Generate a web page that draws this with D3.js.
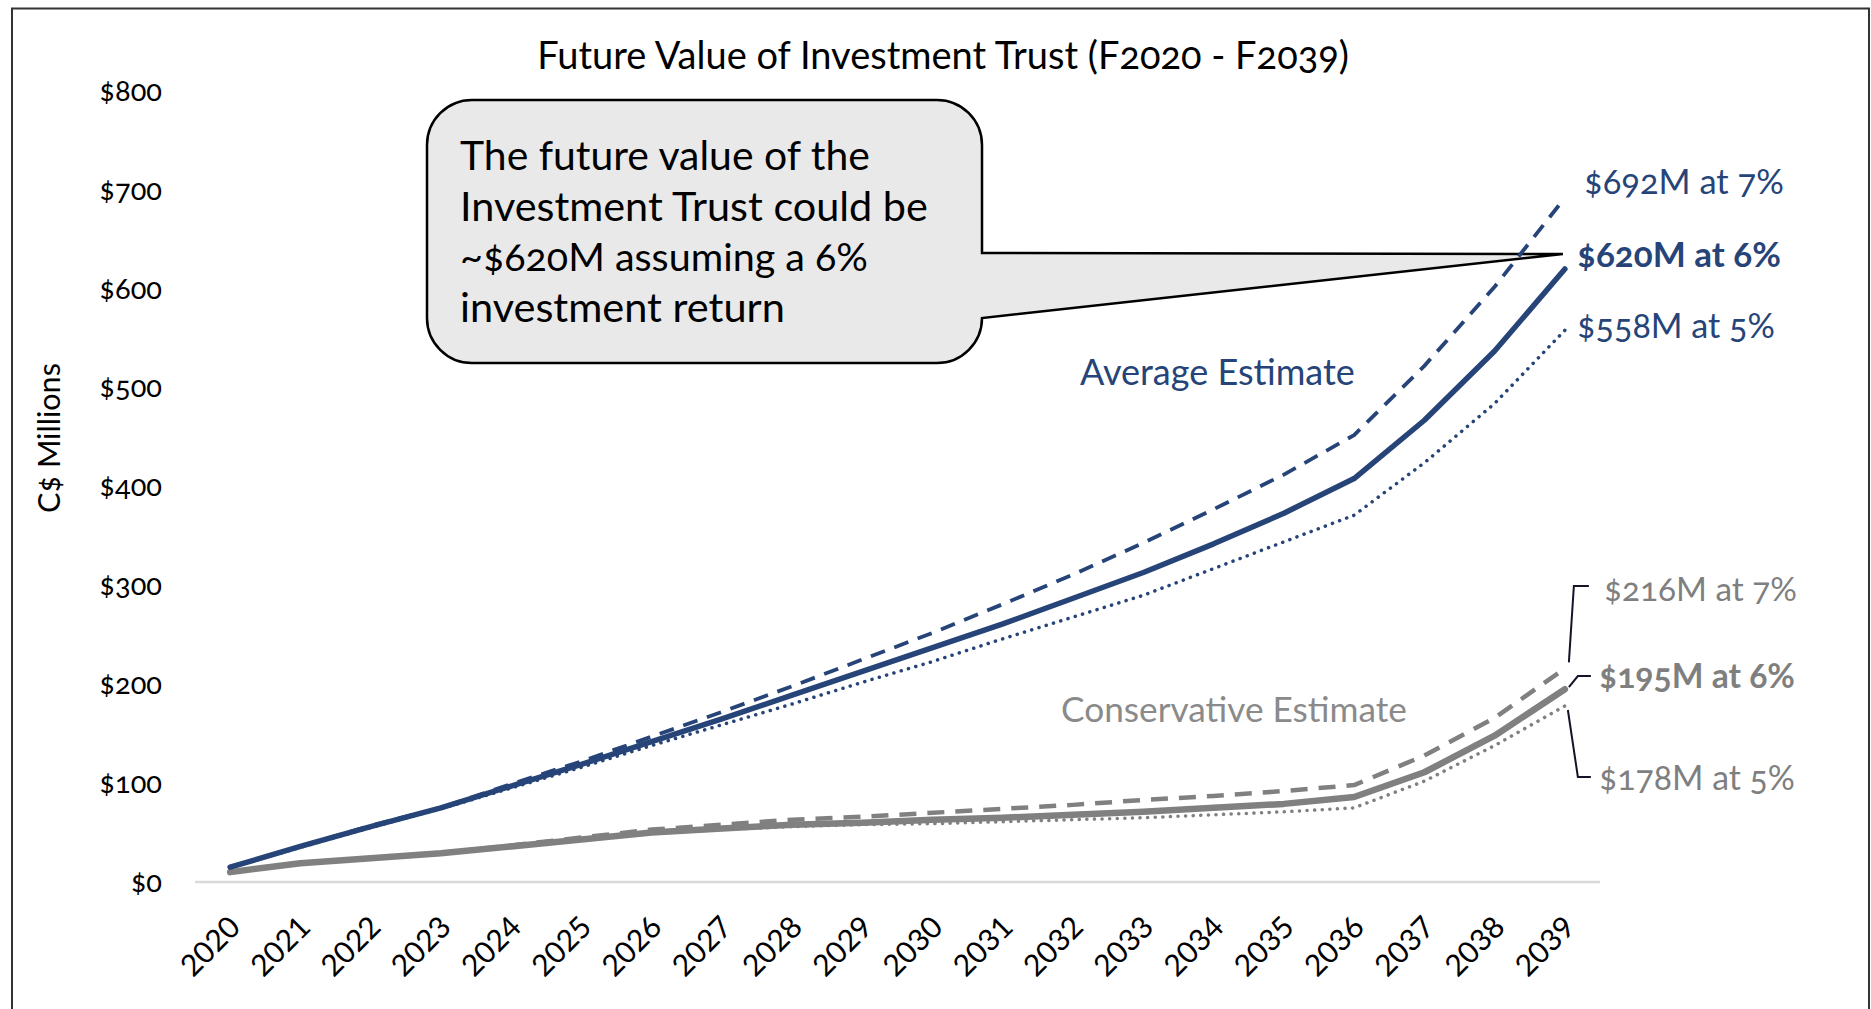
<!DOCTYPE html>
<html>
<head>
<meta charset="utf-8">
<script src="https://cdn.jsdelivr.net/npm/d3@7"></script>
<style>
  html, body { margin: 0; padding: 0; background: #fff; }
  svg { display: block; }
  text { font-family: Lato, "Open Sans", "Noto Sans", sans-serif; font-variant-numeric: oldstyle-nums; }
</style>
</head>
<body>
<svg id="chart" width="1871" height="1009"></svg>
<script>
// ---------- data ----------
const years = ["2020","2021","2022","2023","2024","2025","2026","2027","2028","2029",
               "2030","2031","2032","2033","2034","2035","2036","2037","2038","2039"];
const avg7  = [15,36,57,75,99,122,147,172,198,225,252,281,311,343,377,412,452,522,602,692];
const avg6  = [15,36,56,75,97,119,142,165,189,213,237,261,287,313,342,373,408,467,537,620];
const avg5  = [15,35,55,74,95,116,138,159,180,202,223,246,268,290,317,344,371,424,484,558];
const cons7 = [10,19,24,29,37,45,53,58,63,66,70,74,78,83,87,92,98,128,166,216];
const cons6 = [10,19,24,29,36,43,50,54,58,60,63,65,68,71,75,79,86,111,148,195];
const cons5 = [10,19,24,29,36,43,49,53,56,58,59,61,63,65,68,71,75,102,138,178];
const yTicks = [0,100,200,300,400,500,600,700,800];
const endLabelsAvg  = ["$692M at 7%", "$620M at 6%", "$558M at 5%"];
const endLabelsCons = ["$216M at 7%", "$195M at 6%", "$178M at 5%"];
const titleText = "Future Value of Investment Trust (F2020 - F2039)";
const yTitle = "C$ Millions";
const calloutLines = ["The future value of the", "Investment Trust could be", "~$620M assuming a 6%", "investment return"];

// ---------- setup ----------
const NAVY = "#264478", GRAY = "#808080";
const svg = d3.select("#chart");
const x = d3.scaleBand().domain(years).range([195, 1600]);
const cx = d => x(d) + x.bandwidth() / 2;
const y = d3.scaleLinear().domain([0, 800]).range([882, 91]);

function fit(sel, w) {
  sel.each(function () {
    const t = d3.select(this);
    const fs = parseFloat(t.style("font-size"));
    const L = this.getComputedTextLength();
    t.style("font-size", (fs * w / L) + "px");
  });
}

// border
svg.append("rect").attr("x", 12).attr("y", 8.5).attr("width", 1857).attr("height", 1020)
  .attr("fill", "none").attr("stroke", "#333").attr("stroke-width", 2);

// title
svg.append("text").attr("x", 943).attr("y", 69).attr("text-anchor", "middle")
  .style("font-size", "34px").attr("fill", "#000").text(titleText).call(fit, 812);

// y axis
const yAxis = d3.axisLeft(y).tickValues(yTicks).tickSize(0).tickPadding(0)
  .tickFormat(d => "$" + d);
const gy = svg.append("g").attr("transform", "translate(162,0)").call(yAxis);
gy.select(".domain").remove();
gy.attr("font-size", null).attr("font-family", null);
gy.selectAll("text").attr("fill", "#000").style("font-size", "29px");

// baseline gridline at 0
svg.append("line").attr("x1", 195).attr("x2", 1600).attr("y1", y(0)).attr("y2", y(0))
  .attr("stroke", "#D9D9D9").attr("stroke-width", 2.5);

// x axis labels
const xAxis = d3.axisBottom(x).tickSize(0);
const gx = svg.append("g").attr("transform", `translate(0,${y(0)})`).call(xAxis);
gx.select(".domain").remove();
gx.attr("font-size", null).attr("font-family", null);
gx.selectAll("text")
  .attr("fill", "#000").style("font-size", "30px")
  .style("font-variant-numeric", "lining-nums")
  .attr("text-anchor", "end").attr("dy", null).attr("y", null)
  .attr("transform", "translate(12,47) rotate(-45)");

// y title
svg.append("text").attr("transform", "translate(60,438) rotate(-90)")
  .attr("text-anchor", "middle").style("font-size", "25px").attr("fill", "#000")
  .text(yTitle).call(fit, 150);

// callout
const bx0 = 427, by0 = 100, bx1 = 982, by1 = 363, r = 45;
const tipX = cx("2039") - 2, tipY = y(620) - 15;
const p = d3.path();
p.moveTo(bx0 + r, by0);
p.lineTo(bx1 - r, by0);
p.arcTo(bx1, by0, bx1, by0 + r, r);
p.lineTo(bx1, 253);
p.lineTo(tipX, tipY);
p.lineTo(bx1, 318);
p.lineTo(bx1, by1 - r);
p.arcTo(bx1, by1, bx1 - r, by1, r);
p.lineTo(bx0 + r, by1);
p.arcTo(bx0, by1, bx0, by1 - r, r);
p.lineTo(bx0, by0 + r);
p.arcTo(bx0, by0, bx0 + r, by0, r);
p.closePath();
svg.append("path").attr("d", p.toString()).attr("fill", "#E9E9E9")
  .attr("stroke", "#000").attr("stroke-width", 2.5).attr("stroke-linejoin", "miter");

const calloutWidths = [410, 468, 408, 325];
svg.append("g").selectAll("text").data(calloutLines).join("text")
  .attr("x", 460).attr("y", (d, i) => 170 + i * 50.7)
  .style("font-size", "38px").attr("fill", "#000").text(d => d)
  .each(function (d, i) { d3.select(this).call(fit, calloutWidths[i]); });

// lines
const line = d3.line().x((d, i) => cx(years[i])).y(d => y(d));
const series = [
  { v: cons5, c: GRAY, w: 3.5, dash: "0.1,7.5", cap: "round" },
  { v: cons7, c: GRAY, w: 4.5, dash: "17,11", cap: "butt" },
  { v: cons6, c: GRAY, w: 6.5, dash: null, cap: "round" },
  { v: avg5, c: NAVY, w: 3.5, dash: "0.1,7.5", cap: "round" },
  { v: avg7, c: NAVY, w: 3.8, dash: "15,10", cap: "butt" },
  { v: avg6, c: NAVY, w: 5.5, dash: null, cap: "round" }
];
svg.append("g").selectAll("path").data(series).join("path")
  .attr("d", d => line(d.v)).attr("fill", "none")
  .attr("stroke", d => d.c).attr("stroke-width", d => d.w)
  .attr("stroke-dasharray", d => d.dash).attr("stroke-linecap", d => d.cap)
  .attr("stroke-linejoin", "round");

// series labels
svg.append("text").attr("x", 1080).attr("y", 385).style("font-size", "30px")
  .attr("fill", NAVY).text("Average Estimate").call(fit, 275);
svg.append("text").attr("x", 1061).attr("y", 722).style("font-size", "30px")
  .attr("fill", "#8A8A8A").text("Conservative Estimate").call(fit, 346);

// end labels (average)
const avgEnd = [
  { t: endLabelsAvg[0], x: 1584, y: 194, w: 200, b: false },
  { t: endLabelsAvg[1], x: 1577, y: 267, w: 204, b: true },
  { t: endLabelsAvg[2], x: 1577, y: 338, w: 198, b: false }
];
svg.append("g").selectAll("text").data(avgEnd).join("text")
  .attr("x", d => d.x).attr("y", d => d.y).style("font-size", "30px")
  .style("font-weight", d => d.b ? "bold" : "normal")
  .attr("fill", NAVY).text(d => d.t)
  .each(function (d) { d3.select(this).call(fit, d.w); });

const consEnd = [
  { t: endLabelsCons[0], x: 1604, y: 601, w: 193, b: false },
  { t: endLabelsCons[1], x: 1599, y: 688, w: 196, b: true },
  { t: endLabelsCons[2], x: 1599, y: 790, w: 196, b: false }
];
svg.append("g").selectAll("text").data(consEnd).join("text")
  .attr("x", d => d.x).attr("y", d => d.y).style("font-size", "30px")
  .style("font-weight", d => d.b ? "bold" : "normal")
  .attr("fill", "#7F7F7F").text(d => d.t)
  .each(function (d) { d3.select(this).call(fit, d.w); });

// leader lines for conservative labels
const ex = cx("2039");
const leaders = [
  [[ex + 4, y(216) - 6], [ex + 9, 586], [ex + 24, 586]],
  [[ex + 4, y(195) - 2], [ex + 13, 676], [ex + 26, 676]],
  [[ex + 3, y(178) + 4], [ex + 13, 777], [ex + 26, 777]]
];
svg.append("g").selectAll("path").data(leaders).join("path")
  .attr("d", d => d3.line()(d)).attr("fill", "none")
  .attr("stroke", "#141428").attr("stroke-width", 2);
</script>
</body>
</html>
